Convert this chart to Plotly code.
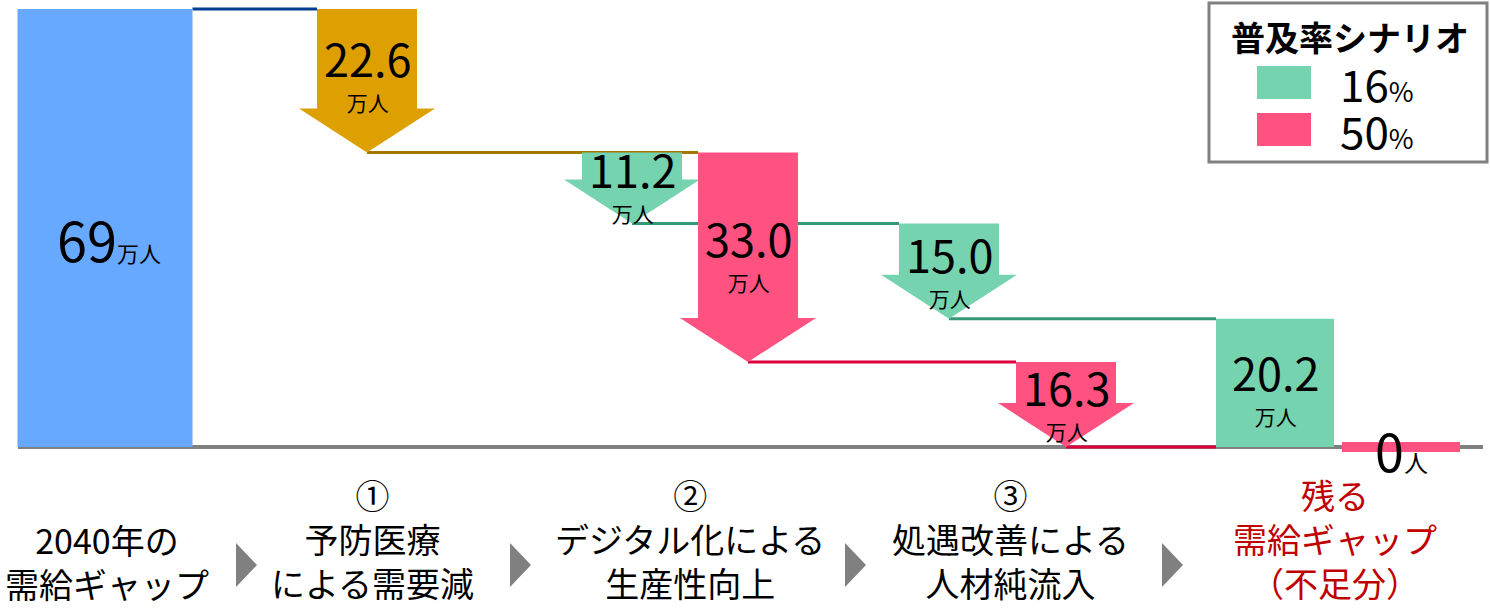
import plotly.graph_objects as go

# ---------------- data ----------------
step_labels = [
    "2040年の<br>需給ギャップ",
    "①<br>予防医療<br>による需要減",
    "②<br>デジタル化による<br>生産性向上",
    "③<br>処遇改善による<br>人材純流入",
    "残る<br>需給ギャップ<br>（不足分）",
]
scenario_names = ["16%", "50%"]
gap_2040 = 69.0                 # 万人
prevention_cut = 22.6           # ① common to both scenarios
digital_cut = [11.2, 33.0]      # ② per scenario (16%, 50%)
treatment_cut = [15.0, 16.3]    # ③ per scenario
remaining_gap = [20.2, 0.0]     # 残る需給ギャップ per scenario
value_labels_main = ["69", "22.6"]
value_labels_digital = ["11.2", "33.0"]
value_labels_treatment = ["15.0", "16.3"]
value_labels_remaining = ["20.2", "0"]

# ---------------- style / layout constants ----------------
W, H = 1490, 610
BASE_PX, TOP_PX = 447, 9
K = (BASE_PX - TOP_PX) / gap_2040           # px per unit
Y_MAX = gap_2040 + TOP_PX / K
Y_MIN = -(H - BASE_PX) / K

def py(p):  # pixel row -> y value (for layout positions of decorations)
    return (BASE_PX - p) / K

X_START = 105
X_PREV = 367
X_DIGI = [632, 748]
X_TREAT = [949, 1066]
X_REM = [1275, 1401]
X_LABEL = [107, 372, 690, 1010, 1335]
X_TRI = [246, 520, 855, 1172]

BLUE = "#66A9FF"
GOLD = "#DDA000"
GREEN = "#76D3AF"
PINK = "#FF5280"
C_BLUE_LINE = "#003F8F"
C_GOLD_LINE = "#A07800"
C_GREEN_LINE = "#339977"
C_PINK_LINE = "#DC003C"
GRAY = "#808080"
DARKRED = "#C00000"
FONT = "Noto Sans CJK JP"
SC_COLORS = [GREEN, PINK]
LINE_COLORS = [C_GREEN_LINE, C_PINK_LINE]

BODY_HALF = 50
HEAD_HALF = 68
HEAD_H = 44 / K
BLUE_HALF = 87.5
REM_HALF = 59

fig = go.Figure()

def hline(x0, x1, y, color, width=3):
    fig.add_trace(go.Scatter(x=[x0, x1], y=[y, y], mode="lines",
                             line=dict(color=color, width=width),
                             hoverinfo="skip", showlegend=False))

def arrow(xc, y0, y1, color):
    yh = y1 + HEAD_H
    xs = [xc - BODY_HALF, xc + BODY_HALF, xc + BODY_HALF, xc + HEAD_HALF, xc,
          xc - HEAD_HALF, xc - BODY_HALF, xc - BODY_HALF]
    ys = [y0, y0, yh, yh, y1, yh, yh, y0]
    fig.add_trace(go.Scatter(x=xs, y=ys, mode="lines", fill="toself",
                             fillcolor=color, line=dict(width=0, color=color),
                             hoverinfo="skip", showlegend=False))

def rect(xc, half, y0, y1, color):
    fig.add_trace(go.Scatter(x=[xc - half, xc + half, xc + half, xc - half, xc - half],
                             y=[y0, y0, y1, y1, y0], mode="lines", fill="toself",
                             fillcolor=color, line=dict(width=0, color=color),
                             hoverinfo="skip", showlegend=False))

def value_text(xc, ymid, num, shift=4, size=45):
    fig.add_annotation(x=xc, y=ymid, yshift=shift,
                       text=(f"<span style='font-size:{size}px'>{num}</span><br>"
                             "<span style='font-size:21px'>万人</span>"),
                       showarrow=False,
                       font=dict(family=FONT, size=26, color="black"))

# levels
L0 = gap_2040
L1 = L0 - prevention_cut
L2 = [L1 - d for d in digital_cut]
L3 = [max(0.0, L2[i] - treatment_cut[i]) for i in range(2)]

# baseline
hline(18, 1483, 0, GRAY, 4)

# connectors
hline(X_START + BLUE_HALF, X_PREV - BODY_HALF, L0, C_BLUE_LINE)
hline(X_PREV, X_DIGI[1] - BODY_HALF, L1, C_GOLD_LINE)
for i in range(2):
    hline(X_DIGI[i], X_TREAT[i] - BODY_HALF, L2[i], LINE_COLORS[i])
hline(X_TREAT[0], X_REM[0] - REM_HALF, L3[0], LINE_COLORS[0])
hline(X_TREAT[1], X_REM[0] - REM_HALF, L3[1], LINE_COLORS[1])

# 2040 gap bar
rect(X_START, BLUE_HALF, 0, L0, BLUE)
# arrows
arrow(X_PREV, L0, L1, GOLD)
for i in range(2):
    arrow(X_DIGI[i], L1, L2[i], SC_COLORS[i])
for i in range(2):
    arrow(X_TREAT[i], L2[i], L3[i], SC_COLORS[i])
# remaining
rect(X_REM[0], REM_HALF, 0, remaining_gap[0], GREEN)
fig.add_trace(go.Scatter(x=[X_REM[1] - REM_HALF, X_REM[1] + REM_HALF],
                         y=[remaining_gap[1], remaining_gap[1]], mode="lines",
                         line=dict(color=PINK, width=10), hoverinfo="skip",
                         showlegend=False))

# value labels
fig.add_annotation(x=X_START + 4, y=py(238), text=value_labels_main[0] +
                   "<span style='font-size:22px'>万人</span>", showarrow=False,
                   font=dict(family=FONT, size=54, color="black"))
value_text(X_PREV, (L0 + L1) / 2, value_labels_main[1], shift=10)
for i in range(2):
    value_text(X_DIGI[i], (L1 + L2[i]) / 2, value_labels_digital[i], shift=6)
    value_text(X_TREAT[i], (L2[i] + L3[i]) / 2, value_labels_treatment[i], shift=4)
value_text(X_REM[0], remaining_gap[0] / 2, value_labels_remaining[0], shift=-2)
fig.add_annotation(x=X_REM[1], y=remaining_gap[1], yshift=-2,
                   text=value_labels_remaining[1] + "<span style='font-size:24px'>人</span>",
                   showarrow=False, font=dict(family=FONT, size=52, color="black"))

# category labels
for i, lab in enumerate(step_labels):
    nlines = lab.count("<br>") + 1
    cy = 561 if nlines == 2 else 538
    fig.add_annotation(x=X_LABEL[i], y=py(cy), text=lab, showarrow=False,
                       yanchor="middle",
                       font=dict(family=FONT, size=34,
                                 color=DARKRED if i == len(step_labels) - 1 else "black"))
for xt in X_TRI:
    y_top, y_bot, y_mid = py(543), py(587), py(565)
    fig.add_shape(type="path", xref="x", yref="y",
                  path=f"M {xt-10},{y_top} L {xt+11},{y_mid} L {xt-10},{y_bot} Z",
                  fillcolor=GRAY, line=dict(width=0))

# legend (drawn)
fig.add_shape(type="rect", xref="x", yref="y", x0=1209, x1=1487, y0=py(3), y1=py(162),
              line=dict(color=GRAY, width=3), fillcolor="white")
fig.add_annotation(x=1350, y=py(36), text="<b>普及率シナリオ</b>", showarrow=False,
                   font=dict(family=FONT, size=34, color="black"))
for i, (nm, col) in enumerate(zip(scenario_names, SC_COLORS)):
    cy = 83 + 47 * i
    fig.add_shape(type="rect", xref="x", yref="y", x0=1257, x1=1311,
                  y0=py(cy - 17), y1=py(cy + 16), fillcolor=col, line=dict(width=0))
    fig.add_annotation(x=1338, y=py(cy), xanchor="left", showarrow=False,
                       text=nm[:-1] + "<span style='font-size:27px'>%</span>",
                       font=dict(family=FONT, size=44, color="black"))

fig.update_layout(
    width=W, height=H, margin=dict(l=0, r=0, t=0, b=0),
    paper_bgcolor="white", plot_bgcolor="white", showlegend=False,
    xaxis=dict(range=[0, W], visible=False, fixedrange=True),
    yaxis=dict(range=[Y_MIN, Y_MAX], visible=False, fixedrange=True),
)

fig.write_html("out.html", config={"displayModeBar": False},
               post_script="document.body.style.margin='0';document.body.style.overflow='hidden';")
